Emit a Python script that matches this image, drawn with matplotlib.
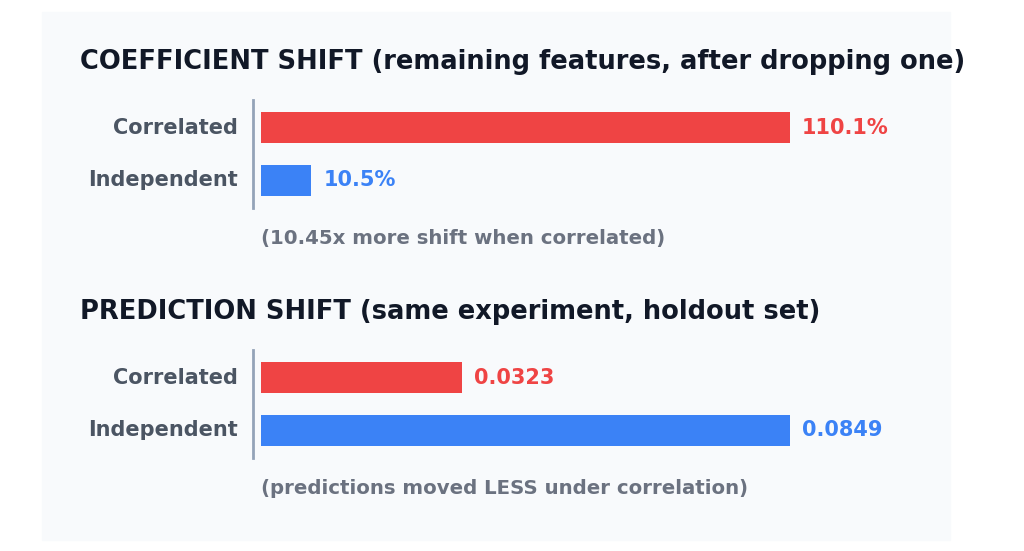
import matplotlib
matplotlib.use("Agg")
import matplotlib.pyplot as plt
from matplotlib.patches import Rectangle

categories = ["Correlated", "Independent"]
coef_shift = [110.1, 10.5]
pred_shift = [0.0323, 0.0849]
coef_labels = ["110.1%", "10.5%"]
pred_labels = ["0.0323", "0.0849"]
titles = ["COEFFICIENT SHIFT (remaining features, after dropping one)",
          "PREDICTION SHIFT (same experiment, holdout set)"]
notes = ["(10.45x more shift when correlated)",
         "(predictions moved LESS under correlation)"]
colors = ["#ef4444", "#3b82f6"]

W, H = 1024, 551
fig = plt.figure(figsize=(W/100, H/100), dpi=100)
fig.patches.append(Rectangle((42/W, 1-540/H), (950-42)/W, (540-12)/H,
                             transform=fig.transFigure, color="#f8fafc", zorder=-5))

def panel(vals, labs, title, note, top):
    ax = fig.add_axes([253/W, 1-(top+108)/H, (950-253)/W, 108/H])
    ax.set_facecolor("none")
    ax.set_zorder(2)
    vmax = max(vals)
    scale = vmax/529
    ax.set_xlim(-8*scale, (950-261)*scale)
    ax.set_ylim(1.52, -0.52)
    ax.barh(range(len(vals)), vals, height=0.57, color=colors)
    for i, (v, l) in enumerate(zip(vals, labs)):
        ax.text(v + 12*scale, i, l, va="center", ha="left", color=colors[i],
                fontsize=15, fontweight="bold", clip_on=False)
        ax.text(-23*scale, i, categories[i], va="center", ha="right",
                color="#4b5563", fontsize=15, fontweight="bold", clip_on=False)
    for s in ["top", "right", "bottom"]:
        ax.spines[s].set_visible(False)
    ax.spines["left"].set_color("#94a3b8")
    ax.spines["left"].set_linewidth(2)
    ax.set_xticks([]); ax.set_yticks([])
    fig.text(80/W, 1-(top-38)/H, title, fontsize=18.5, fontweight="bold",
             color="#111827", va="center", ha="left")
    fig.text(261/W, 1-(top+139)/H, note, fontsize=14.2, fontweight="bold",
             color="#6b7280", va="center", ha="left")

panel(coef_shift, coef_labels, titles[0], notes[0], 100)
panel(pred_shift, pred_labels, titles[1], notes[1], 350)
fig.savefig("out.png", dpi=100)
